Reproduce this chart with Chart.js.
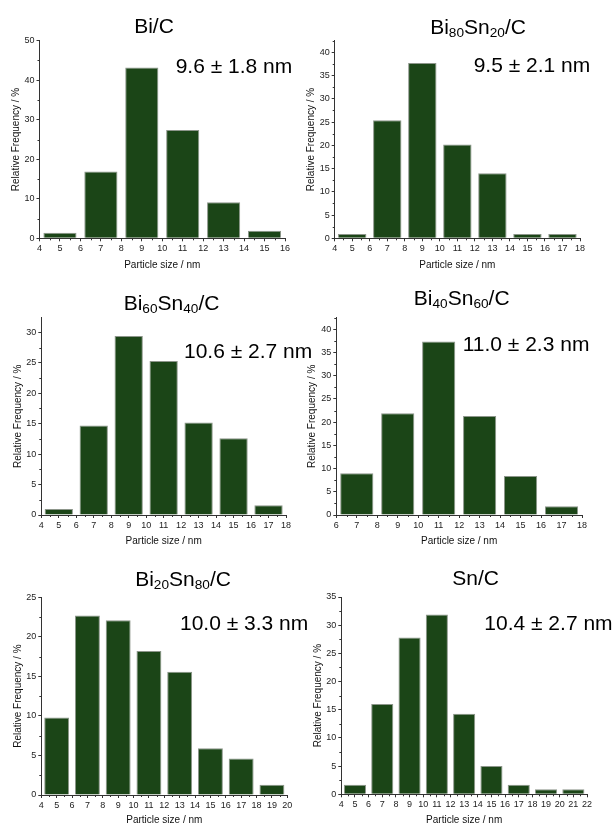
<!DOCTYPE html>
<html>
<head>
<meta charset="utf-8">
<script src="https://cdn.jsdelivr.net/npm/chart.js@4.4.0/dist/chart.umd.min.js"></script>
<style>
body { margin: 0; background: #fff; }
#page { position: relative; width: 612px; height: 826px; overflow: hidden; font-family: "Liberation Sans", Arial, sans-serif; }
canvas { position: absolute; }
.ttl, .ann { position: absolute; font-size: 21px; line-height: 1; white-space: nowrap; color: #000; }
.ttl { transform: translate(-50%, -50%); }
.ann { transform: translateY(-50%); }
sub { font-size: 0.65em; vertical-align: -0.28em; line-height: 0; }
</style>
</head>
<body>
<div id="page"></div>
<script>
// bin centres (nm) and relative frequency (%) for each sample
const bic_centers = [5, 7, 9, 11, 13, 15];
const bic_freq = [1.4, 16.9, 43.2, 27.4, 9.1, 1.9];
const bi80_centers = [5, 7, 9, 11, 13, 15, 17];
const bi80_freq = [0.9, 25.4, 37.7, 20.2, 14.0, 0.9, 0.9];
const bi60_centers = [5, 7, 9, 11, 13, 15, 17];
const bi60_freq = [1.0, 14.7, 29.4, 25.3, 15.2, 12.6, 1.6];
const bi40_centers = [7, 9, 11, 13, 15, 17];
const bi40_freq = [9.0, 21.9, 37.4, 21.3, 8.4, 1.9];
const bi20_centers = [5, 7, 9, 11, 13, 15, 17, 19];
const bi20_freq = [9.8, 22.7, 22.1, 18.2, 15.6, 5.9, 4.6, 1.3];
const snc_centers = [5, 7, 9, 11, 13, 15, 17, 19, 21];
const snc_freq = [1.7, 16.0, 27.8, 31.9, 14.3, 5.0, 1.7, 0.9, 0.9];

// axis ranges: x [min, max], y [min, max, step]
const bic_x = [4, 16], bic_y = [0, 50, 10];
const bi80_x = [4, 18], bi80_y = [0, 42.5, 5];
const bi60_x = [4, 18], bi60_y = [0, 32.4, 5];
const bi40_x = [6, 18], bi40_y = [0, 42.5, 5];
const bi20_x = [4, 20], bi20_y = [0, 25, 5];
const snc_x = [4, 22], snc_y = [0, 35, 5];

const xTitle = "Particle size / nm";
const yTitle = "Relative Frequency / %";

const barFill = "#1b4517";
const barEdge = "#8d968b";
const axisColor = "#333";
const family = "'Liberation Sans', Arial, sans-serif";

const panels = [
    { title: "Bi/C", note: "9.6 ± 1.8 nm", c: bic_centers, f: bic_freq, x: bic_x, y: bic_y,
      box: { L: 39.5, R: 285, T: 40.7, B: 238.3, yt: 16.3, xt: 265 }, tp: [154, 24.5], np: [175.7, 64.5] },
    { title: "Bi<sub>80</sub>Sn<sub>20</sub>/C", note: "9.5 ± 2.1 nm", c: bi80_centers, f: bi80_freq, x: bi80_x, y: bi80_y,
      box: { L: 334.7, R: 580, T: 40.7, B: 238.3, yt: 311, xt: 265 }, tp: [478, 25.5], np: [473.7, 63.8] },
    { title: "Bi<sub>60</sub>Sn<sub>40</sub>/C", note: "10.6 ± 2.7 nm", c: bi60_centers, f: bi60_freq, x: bi60_x, y: bi60_y,
      box: { L: 41.3, R: 286, T: 317.7, B: 515, yt: 18.3, xt: 541 }, tp: [171.5, 302], np: [184, 350] },
    { title: "Bi<sub>40</sub>Sn<sub>60</sub>/C", note: "11.0 ± 2.3 nm", c: bi40_centers, f: bi40_freq, x: bi40_x, y: bi40_y,
      box: { L: 336.3, R: 582, T: 317.7, B: 515, yt: 312.3, xt: 541 }, tp: [461.7, 296.5], np: [462.7, 342.5] },
    { title: "Bi<sub>20</sub>Sn<sub>80</sub>/C", note: "10.0 ± 3.3 nm", c: bi20_centers, f: bi20_freq, x: bi20_x, y: bi20_y,
      box: { L: 41.3, R: 287.3, T: 597.3, B: 795, yt: 18.3, xt: 820 }, tp: [183, 578], np: [180, 621.8] },
    { title: "Sn/C", note: "10.4 ± 2.7 nm", c: snc_centers, f: snc_freq, x: snc_x, y: snc_y,
      box: { L: 341.3, R: 587, T: 597, B: 794.3, yt: 317.5, xt: 819.5 }, tp: [475.7, 576.8], np: [484.3, 621.8] }
];

// small unlabeled ticks between the labeled ones
const minorTicks = {
    id: "minorTicks",
    afterDraw(chart) {
        const ctx = chart.ctx, xs = chart.scales.x, ys = chart.scales.y;
        ctx.save();
        ctx.strokeStyle = axisColor;
        ctx.lineWidth = 1;
        ctx.beginPath();
        for (let v = xs.min + 0.5; v < xs.max; v += 1) {
            const px = Math.round(xs.getPixelForValue(v)) + 0.5;
            ctx.moveTo(px, xs.top);
            ctx.lineTo(px, xs.top + 2);
        }
        const st = ys.options.ticks.stepSize;
        for (let v = ys.min + st / 2; v <= ys.max + 1e-6; v += st) {
            const py = Math.round(ys.getPixelForValue(v)) + 0.5;
            ctx.moveTo(ys.right, py);
            ctx.lineTo(ys.right - 2, py);
        }
        ctx.stroke();
        ctx.restore();
    }
};

const page = document.getElementById("page");

function makeChart(p) {
    const b = p.box;
    const cx = Math.round(b.yt - 6), cy = Math.round(b.T - 12);
    const cw = Math.round(b.R + 16) - cx, ch = Math.round(b.xt + 6) - cy;
    const cv = document.createElement("canvas");
    cv.width = cw;
    cv.height = ch;
    cv.style.left = cx + "px";
    cv.style.top = cy + "px";
    page.appendChild(cv);

    new Chart(cv.getContext("2d"), {
        type: "bar",
        data: {
            datasets: [{
                data: p.c.map((c, i) => ({ x: c, y: p.f[i] })),
                backgroundColor: barFill,
                borderColor: barEdge,
                borderWidth: 1,
                categoryPercentage: 1,
                barPercentage: 1.62,
            }],
        },
        options: {
            responsive: false,
            animation: false,
            devicePixelRatio: 1,
            layout: { padding: { left: 0, top: b.T - cy, right: cx + cw - b.R, bottom: 0 } },
            plugins: { legend: { display: false }, tooltip: { enabled: false } },
            scales: {
                x: {
                    type: "linear",
                    min: p.x[0],
                    max: p.x[1],
                    offset: false,
                    grid: { offset: false, drawOnChartArea: false, tickLength: 3, color: axisColor },
                    border: { color: axisColor, width: 1 },
                    ticks: { stepSize: 1, padding: 2, maxRotation: 0, autoSkip: false, color: "#222", font: { size: 9, family: family } },
                    title: { display: true, text: xTitle, padding: 0, color: "#111", font: { size: 10, family: family } },
                    afterFit: (s) => { s.height = cy + ch - b.B; },
                },
                y: {
                    type: "linear",
                    min: p.y[0],
                    max: p.y[1],
                    grid: { drawOnChartArea: false, tickLength: 3, color: axisColor },
                    border: { color: axisColor, width: 1 },
                    ticks: { stepSize: p.y[2], includeBounds: false, padding: 2, color: "#222", font: { size: 9, family: family } },
                    title: { display: true, text: yTitle, padding: 0, color: "#111", font: { size: 10, family: family } },
                    afterFit: (s) => { s.width = b.L - cx; },
                },
            },
        },
        plugins: [minorTicks],
    });
}

panels.forEach(makeChart);

// titles and mean size notes on top of the canvases
panels.forEach((p) => {
    const t = document.createElement("div");
    t.className = "ttl";
    t.innerHTML = p.title;
    t.style.left = p.tp[0] + "px";
    t.style.top = p.tp[1] + "px";
    page.appendChild(t);

    const n = document.createElement("div");
    n.className = "ann";
    n.textContent = p.note;
    n.style.left = p.np[0] + "px";
    n.style.top = p.np[1] + "px";
    page.appendChild(n);
});
</script>
</body>
</html>
